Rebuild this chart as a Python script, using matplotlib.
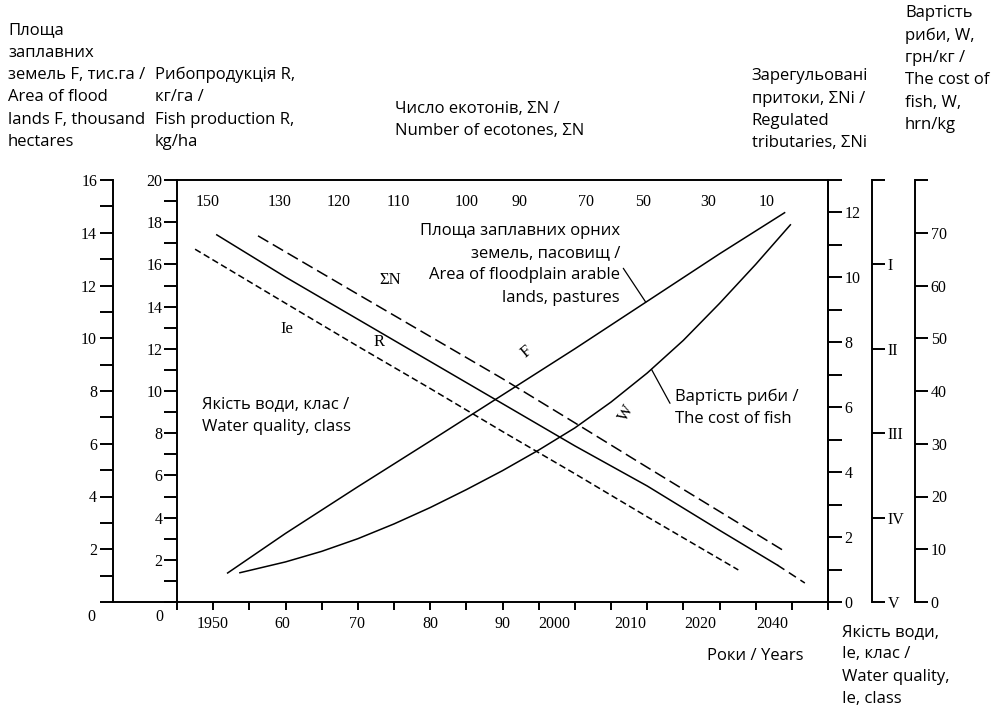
import numpy as np
import matplotlib
matplotlib.use('Agg')
import matplotlib.pyplot as plt
from matplotlib.lines import Line2D
from matplotlib.ticker import MultipleLocator, FixedLocator

plt.rcParams['font.family'] = ['Liberation Serif', 'DejaVu Serif']

## data (x = position on the years scale)
yr_F = [1952, 1960, 1970, 1980, 1990, 2000, 2010, 2020, 2029]
F    = [1.1, 2.6, 4.37, 6.1, 7.85, 9.6, 11.4, 13.2, 14.76]

yr_W = [1953.7, 1960, 1965, 1970, 1975, 1980, 1985, 1990, 1995, 2000,
        2005, 2010, 2015, 2020, 2025, 2029.8]
Wc   = [5.55, 7.6, 9.6, 12.0, 14.8, 17.9, 21.3, 24.9, 28.8, 33.0,
        37.9, 43.4, 49.6, 56.6, 64.0, 71.5]

yr_R = [1950.5, 1960, 1970, 1980, 1990, 2000, 2010, 2020, 2028]
R    = [17.4, 15.4, 13.4, 11.4, 9.4, 7.4, 5.5, 3.4, 1.75]
yr_R_fc = [2028, 2031.8]
R_fc    = [1.75, 0.9]

yr_N = [1956.2, 1970, 1980, 1990, 2000, 2010, 2020, 2029.1]
N    = [11.28, 9.48, 8.18, 6.88, 5.52, 4.15, 2.79, 1.55]

yr_Ie = [1947.5, 1960, 1970, 1980, 1990, 2000, 2010, 2022.6]
Ie    = [0.82, 1.46, 1.97, 2.47, 2.98, 3.48, 3.99, 4.62]

year_pos    = [1949.9, 1959.5, 1969.9, 1980.0, 1990.0, 1997.2, 2007.6, 2017.4, 2027.3]
year_labels = ['1950', '60', '70', '80', '90', '2000', '2010', '2020', '2040']

sumN_pos    = [1949.3, 1959.2, 1967.3, 1975.6, 1985.1, 1992.4, 2001.6, 2009.5, 2018.5, 2026.5]
sumN_labels = ['150', '130', '120', '110', '100', '90', '70', '50', '30', '10']

class_labels = ['', 'I', 'II', 'III', 'IV', 'V']

## figure
WPX, HPX = 997, 710
fig = plt.figure(figsize=(WPX/100, HPX/100), dpi=100)
ax = fig.add_axes([177/WPX, 108/HPX, 651/WPX, 422/HPX])

def fx(x):
    return x / WPX

def fy(y):
    return 1 - y / HPX

lw_ax = 1.4
tick_fs = 11.5
sans = dict(family='Open Sans', fontsize=12, linespacing=1.53, color='black')

# main axes: years + R
ax.set_xlim(1945, 2035)
ax.set_ylim(0, 20)
ax.xaxis.remove_overlapping_locs = False
ax.set_xticks(year_pos)
ax.set_xticklabels(year_labels)
ax.xaxis.set_minor_locator(FixedLocator(np.arange(1945, 2036, 5)))
ax.tick_params(axis='x', which='major', length=0, pad=10, labelsize=tick_fs)
ax.tick_params(axis='x', which='minor', length=5.8, width=lw_ax, direction='out')
ax.set_yticks(np.arange(0, 21, 2))
ax.set_yticklabels([''] + [str(v) for v in range(2, 21, 2)])
ax.yaxis.set_minor_locator(MultipleLocator(1))
ax.tick_params(axis='y', which='both', direction='out', length=9.4, width=lw_ax,
               pad=1, labelsize=tick_fs)
for s in ax.spines.values():
    s.set_linewidth(lw_ax)

# right: regulated tributaries
ax2 = ax.twinx()
ax2.set_ylim(0, 13)
ax2.set_yticks(np.arange(0, 13, 2))
ax2.yaxis.set_minor_locator(MultipleLocator(1))
ax2.tick_params(axis='y', which='both', direction='out', length=10, width=lw_ax,
                pad=2, labelsize=tick_fs)

# water quality class
axQ = ax.twinx()
axQ.spines['right'].set_position(('outward', 31.7))
axQ.set_ylim(5, 0)
axQ.set_yticks(range(6))
axQ.set_yticklabels(class_labels)
axQ.tick_params(axis='y', direction='out', length=9.4, width=lw_ax, pad=2,
                labelsize=tick_fs)

# cost of fish
axW = ax.twinx()
axW.spines['right'].set_position(('outward', 62.6))
axW.set_ylim(0, 80)
axW.set_yticks(np.arange(0, 81, 10))
axW.set_yticklabels([str(v) for v in range(0, 71, 10)] + [''])
axW.tick_params(axis='y', direction='out', length=9.4, width=lw_ax, pad=2,
                labelsize=tick_fs)

# flood lands area, on the far left
axF = ax.twinx()
axF.yaxis.tick_left()
axF.spines['left'].set_position(('outward', 46.1))
axF.set_ylim(0, 16)
axF.set_yticks(np.arange(0, 17, 2))
axF.set_yticklabels([''] + [str(v) for v in range(2, 17, 2)])
axF.yaxis.set_minor_locator(MultipleLocator(1))
axF.tick_params(axis='y', which='both', direction='out', length=9.4, width=lw_ax,
                pad=2, labelsize=tick_fs)

for a, side in [(ax2, 'right'), (axQ, 'right'), (axW, 'right'), (axF, 'left')]:
    for name, s in a.spines.items():
        s.set_visible(name == side)
        s.set_linewidth(lw_ax)

# baseline stub between the two left scales
fig.add_artist(Line2D([fx(113), fx(177)], [fy(602), fy(602)], color='black',
                      lw=lw_ax, transform=fig.transFigure))
fig.text(fx(91.7), fy(617), '0', ha='center', va='center', fontsize=tick_fs)
fig.text(fx(159.3), fy(617), '0', ha='center', va='center', fontsize=tick_fs)

## the curves
lw = 1.1
axF.plot(yr_F, F, color='black', lw=lw)
axW.plot(yr_W, Wc, color='black', lw=lw)
ax.plot(yr_R, R, color='black', lw=lw)
ax.plot(yr_R_fc, R_fc, color='black', lw=lw, ls=(0, (5.5, 3.5)))
ax2.plot(yr_N, N, color='black', lw=lw, ls=(0, (7.8, 3.4)))
axQ.plot(yr_Ie, Ie, color='black', lw=lw, ls=(0, (4.3, 2.3)))

# ecotone numbers along the top
for p, lab in zip(sumN_pos, sumN_labels):
    ax.text(p, 0.9486, lab, transform=ax.get_xaxis_transform(), ha='center',
            va='center', fontsize=tick_fs)

# curve names
fig.text(fx(390), fy(280), 'ΣN', ha='center', va='center', fontsize=12)
fig.text(fx(286.7), fy(329.3), 'Ie', ha='center', va='center', fontsize=12)
fig.text(fx(379.3), fy(341.7), 'R', ha='center', va='center', fontsize=12)
fig.text(fx(526.7), fy(351.7), 'F', ha='center', va='center', fontsize=12, rotation=40)
fig.text(fx(626.7), fy(413.3), 'W', ha='center', va='center', fontsize=12, rotation=60)

## axis titles (y = baseline of the last line)
fig.text(fx(8), fy(146), 'Площа\nзаплавних\nземель F, тис.га /\nArea of flood\n'
         'lands F, thousand\nhectares', ha='left', va='baseline', **sans)
fig.text(fx(155), fy(146), 'Рибопродукція R,\nкг/га /\nFish production R,\nkg/ha',
         ha='left', va='baseline', **sans)
fig.text(fx(395), fy(135), 'Число екотонів, ΣN /\nNumber of ecotones, ΣN',
         ha='left', va='baseline', **sans)
fig.text(fx(751.7), fy(147.4), 'Зарегульовані\nпритоки, ΣNi /\nRegulated\ntributaries, ΣNi',
         ha='left', va='baseline', **sans)
fig.text(fx(905), fy(129.2), 'Вартість\nриби, W,\nгрн/кг /\nThe cost of\nfish, W,\nhrn/kg',
         ha='left', va='baseline', **sans)
fig.text(fx(201.7), fy(430.7), 'Якість води, клас /\nWater quality, class',
         ha='left', va='baseline', **sans)
fig.text(fx(620), fy(301.8), 'Площа заплавних орних\nземель, пасовищ /\n'
         'Area of floodplain arable\nlands, pastures', ha='right', va='baseline',
         multialignment='right', **sans)
fig.text(fx(675), fy(423), 'Вартість риби /\nThe cost of fish',
         ha='left', va='baseline', **sans)
fig.text(fx(706.7), fy(660), 'Роки / Years', ha='left', va='baseline', **sans)
fig.text(fx(841.7), fy(703), 'Якість води,\nIe, клас /\nWater quality,\nIe, class',
         ha='left', va='baseline', **sans)

# leader lines from the notes to the curves
axF.annotate('', xy=(2009.8, 11.37), xytext=(623.3, HPX - 268.3),
             textcoords='figure pixels',
             arrowprops=dict(arrowstyle='-', lw=0.9, color='black', shrinkA=0, shrinkB=0))
axW.annotate('', xy=(2010.6, 44.1), xytext=(670, HPX - 403.3),
             textcoords='figure pixels',
             arrowprops=dict(arrowstyle='-', lw=0.9, color='black', shrinkA=0, shrinkB=0))

fig.savefig('out.png', dpi=100)
